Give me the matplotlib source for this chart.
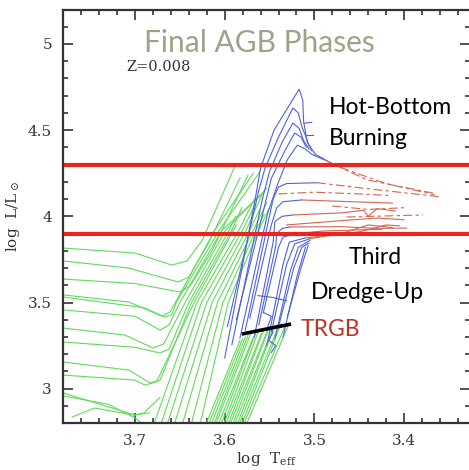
import matplotlib.pyplot as plt

# ---- data (log Teff, log L) ----
# tracks that come in from the left edge (subgiant -> base of RGB -> up)
subgiant_tracks = [
    [(3.780, 3.816), (3.700, 3.787), (3.659, 3.717), (3.642, 3.741), (3.625, 3.862), (3.589, 4.286)],
    [(3.780, 3.741), (3.707, 3.700), (3.652, 3.619), (3.640, 3.648), (3.618, 3.845), (3.583, 4.222)],
    [(3.780, 3.636), (3.700, 3.610), (3.650, 3.561), (3.638, 3.600), (3.614, 3.800), (3.574, 4.239)],
    [(3.780, 3.544), (3.707, 3.503), (3.670, 3.421), (3.661, 3.445), (3.655, 3.50), (3.611, 3.92), (3.568, 4.251)],
    [(3.780, 3.532), (3.690, 3.470), (3.667, 3.416), (3.659, 3.430), (3.654, 3.50), (3.606, 3.92), (3.561, 4.257)],
    [(3.780, 3.457), (3.700, 3.420), (3.672, 3.340), (3.662, 3.370), (3.650, 3.50), (3.603, 3.92), (3.557, 4.135)],
    [(3.780, 3.352), (3.711, 3.311), (3.680, 3.236), (3.668, 3.260), (3.644, 3.50), (3.599, 3.92), (3.553, 4.163)],
    [(3.780, 3.271), (3.700, 3.240), (3.672, 3.207), (3.662, 3.230), (3.640, 3.50), (3.595, 3.92), (3.588, 4.00)],
    [(3.780, 3.155), (3.707, 3.108), (3.683, 3.033), (3.672, 3.050), (3.637, 3.50), (3.592, 3.92), (3.581, 4.05)],
    [(3.780, 3.079), (3.700, 3.050), (3.689, 3.021), (3.676, 3.040), (3.634, 3.50), (3.587, 3.95)],
    [(3.780, 2.975), (3.700, 2.847), (3.690, 2.860), (3.672, 2.950)],
    [(3.770, 2.836), (3.745, 2.888), (3.701, 2.847), (3.684, 2.860)],
    [(3.780, 2.958), (3.730, 2.910), (3.700, 2.830), (3.690, 2.790)],
]

# RGB lines that enter from the bottom edge
rgb_tracks = [
    [(3.680, 2.78), (3.631, 3.50), (3.584, 3.92), (3.567, 4.10)],
    [(3.672, 2.78), (3.626, 3.50), (3.580, 3.92), (3.566, 4.07)],
    [(3.665, 2.78), (3.620, 3.50), (3.576, 3.92), (3.559, 4.12)],
    [(3.657, 2.78), (3.614, 3.50), (3.572, 3.92), (3.561, 4.04)],
    [(3.648, 2.78), (3.608, 3.50), (3.568, 3.92), (3.553, 4.08)],
    [(3.638, 2.78), (3.602, 3.50), (3.565, 3.92), (3.556, 4.01)],
    [(3.628, 2.78), (3.596, 3.50), (3.562, 3.92), (3.550, 4.05)],
]

# dense low-mass RGB bundle up to the tip
lowmass_bottom_T = [3.622, 3.619, 3.616, 3.613, 3.611, 3.608, 3.605, 3.602, 3.600,
                    3.597, 3.595, 3.592, 3.590, 3.587, 3.585, 3.582, 3.580, 3.577]
lowmass_top_T = [3.583, 3.580, 3.577, 3.574, 3.571, 3.568, 3.565, 3.562, 3.559,
                 3.556, 3.553, 3.550, 3.547, 3.544, 3.541, 3.537, 3.533, 3.528]
lowmass_top_L = [3.28, 3.29, 3.30, 3.31, 3.32, 3.30, 3.33, 3.34, 3.32,
                 3.35, 3.33, 3.36, 3.34, 3.37, 3.35, 3.38, 3.36, 3.38]

# TP-AGB, oxygen rich (blue)
agb_tracks = [
    [(3.600, 3.178), (3.566, 4.10), (3.560, 4.28), (3.545, 4.50), (3.517, 4.738), (3.513, 4.675),
     (3.512, 4.55), (3.508, 4.43), (3.503, 4.39), (3.499, 4.36), (3.478, 4.30)],
    [(3.597, 3.36), (3.562, 4.15), (3.555, 4.28), (3.540, 4.46), (3.524, 4.628), (3.518, 4.60),
     (3.514, 4.52), (3.510, 4.47), (3.506, 4.41), (3.503, 4.38)],
    [(3.592, 3.255), (3.558, 4.10), (3.550, 4.26), (3.536, 4.43), (3.524, 4.541), (3.517, 4.51),
     (3.512, 4.44), (3.506, 4.39)],
    [(3.587, 3.40), (3.556, 4.05), (3.548, 4.22), (3.533, 4.38), (3.522, 4.483), (3.515, 4.46),
     (3.509, 4.40)],
    [(3.583, 3.294), (3.552, 4.02), (3.540, 4.20), (3.530, 4.33), (3.519, 4.413), (3.510, 4.39),
     (3.503, 4.36), (3.490, 4.33)],
    [(3.577, 3.34), (3.551, 3.98), (3.546, 4.10), (3.540, 4.17), (3.531, 4.19), (3.497, 4.195)],
    [(3.572, 3.41), (3.548, 3.95), (3.542, 4.05), (3.535, 4.085), (3.514, 4.095)],
    [(3.567, 3.30), (3.546, 3.85), (3.544, 3.97), (3.536, 4.00), (3.524, 4.008)],
    [(3.562, 3.37), (3.543, 3.83), (3.542, 3.90), (3.536, 3.930), (3.527, 3.938)],
    [(3.557, 3.44), (3.540, 3.82), (3.535, 3.88), (3.520, 3.90)],
    [(3.553, 3.25), (3.535, 3.72), (3.528, 3.85), (3.510, 3.875)],
    [(3.548, 3.33), (3.531, 3.72), (3.522, 3.84), (3.505, 3.87)],
    [(3.544, 3.29), (3.527, 3.68), (3.518, 3.82), (3.505, 3.86)],
    [(3.540, 3.36), (3.523, 3.70), (3.514, 3.82), (3.506, 3.845)],
    [(3.535, 3.30), (3.519, 3.66), (3.510, 3.82)],
    [(3.530, 3.42), (3.515, 3.70), (3.507, 3.83)],
    [(3.563, 3.54), (3.547, 3.53), (3.531, 3.51)],
    [(3.556, 3.44), (3.548, 3.42), (3.552, 3.36), (3.546, 3.33), (3.551, 3.28), (3.543, 3.25), (3.548, 3.21)],
    [(3.512, 4.54), (3.503, 4.545)],
    [(3.510, 4.47), (3.501, 4.47)],
]

# carbon star phase (red), solid and dashed pieces
cstar_solid = [
    [(3.514, 4.095), (3.460, 4.085), (3.413, 4.077)],
    [(3.524, 4.008), (3.470, 4.020), (3.445, 4.035), (3.440, 4.000), (3.430, 4.045), (3.410, 4.031)],
    [(3.527, 3.938), (3.470, 3.940), (3.430, 3.930), (3.397, 3.932)],
    [(3.505, 3.870), (3.470, 3.900), (3.440, 3.950), (3.413, 3.935)],
    [(3.520, 3.900), (3.490, 3.915), (3.425, 3.925)],
    [(3.531, 3.950), (3.470, 3.975), (3.430, 3.990), (3.400, 3.980)],
    [(3.510, 3.875), (3.450, 3.910), (3.420, 3.950), (3.405, 3.945)],
]
cstar_dashed = [
    [(3.478, 4.300), (3.441, 4.211), (3.368, 4.135)],
    [(3.490, 4.330), (3.464, 4.270), (3.420, 4.190), (3.366, 4.125)],
    [(3.497, 4.195), (3.440, 4.160), (3.380, 4.125), (3.358, 4.112)],
    [(3.464, 3.996), (3.379, 4.008)],
    [(3.480, 4.060), (3.440, 4.040), (3.400, 4.050)],
    [(3.540, 4.130), (3.500, 4.140), (3.450, 4.130), (3.415, 4.120)],
]

phase_limits = [4.3, 3.9]
trgb_T = [3.581, 3.526]
trgb_L = [3.317, 3.375]

green = '#62da5c'
blue = '#4f63d6'
red = '#d4654f'

plt.rcParams['mathtext.fontset'] = 'dejavuserif'
fig = plt.figure(figsize=(4.69, 4.70), dpi=100)
ax = fig.add_axes([63 / 469, 47 / 470, 407 / 469, 413 / 470])

for tr in subgiant_tracks + rgb_tracks:
    ax.plot([p[0] for p in tr], [p[1] for p in tr], color=green, lw=0.8)
for tb, tt, tl in zip(lowmass_bottom_T, lowmass_top_T, lowmass_top_L):
    ax.plot([tb, tt], [2.78, tl], color=green, lw=0.8)
for tr in agb_tracks:
    ax.plot([p[0] for p in tr], [p[1] for p in tr], color=blue, lw=0.8)
for tr in cstar_solid:
    ax.plot([p[0] for p in tr], [p[1] for p in tr], color=red, lw=0.8)
for tr in cstar_dashed:
    ax.plot([p[0] for p in tr], [p[1] for p in tr], color=red, lw=0.8, dashes=(8, 3, 3, 3))

for yl in phase_limits:
    ax.axhline(yl, color='#e8261f', lw=3)
ax.plot(trgb_T, trgb_L, color='black', lw=2.6, solid_capstyle='butt')

ax.set_xlim(3.7803, 3.3265)
ax.set_ylim(2.801, 5.197)
ax.set_xticks([3.7, 3.6, 3.5, 3.4])
ax.set_yticks([3, 3.5, 4, 4.5, 5])
ax.set_xticklabels(['3.7', '3.6', '3.5', '3.4'])
ax.set_yticklabels(['3', '3.5', '4', '4.5', '5'])
ax.set_xticks([3.78, 3.76, 3.74, 3.72, 3.68, 3.66, 3.64, 3.62, 3.58, 3.56, 3.54, 3.52,
               3.48, 3.46, 3.44, 3.42, 3.38, 3.36, 3.34], minor=True)
ax.set_yticks([2.9, 3.1, 3.2, 3.3, 3.4, 3.6, 3.7, 3.8, 3.9, 4.1, 4.2, 4.3, 4.4,
               4.6, 4.7, 4.8, 4.9, 5.1], minor=True)
ax.tick_params(which='both', direction='in', top=True, right=True, color='#333333',
               width=1.2, labelsize=11, labelcolor='#333333', pad=8)
ax.tick_params(which='major', length=7.5)
ax.tick_params(which='minor', length=3.8)
for lab in ax.get_xticklabels() + ax.get_yticklabels():
    lab.set_family('DejaVu Serif')
for s in ax.spines.values():
    s.set_linewidth(1.6)
    s.set_color('#333333')

ax.set_xlabel(r'log  T$_{\rm eff}$', family='DejaVu Serif', fontsize=11, color='#333333', labelpad=1)
ax.set_ylabel(r'log  L/L$_\odot$', family='DejaVu Serif', fontsize=11, color='#333333', labelpad=4)

ax.text(0.482, 0.92, 'Final AGB Phases', transform=ax.transAxes, ha='center', va='center',
        family='Lato', fontsize=21.5, color='#9fa288')
ax.text(0.155, 0.863, 'Z=0.008', transform=ax.transAxes, ha='left', va='center',
        family='DejaVu Serif', fontsize=10.5, color='#333333')
ax.text(0.654, 0.763, 'Hot-Bottom', transform=ax.transAxes, ha='left', va='center',
        family='Lato', fontsize=16.5, color='black')
ax.text(0.654, 0.690, 'Burning', transform=ax.transAxes, ha='left', va='center',
        family='Lato', fontsize=16.5, color='black')
ax.text(0.766, 0.400, 'Third', transform=ax.transAxes, ha='center', va='center',
        family='Lato', fontsize=16.5, color='black')
ax.text(0.747, 0.317, 'Dredge-Up', transform=ax.transAxes, ha='center', va='center',
        family='Lato', fontsize=16.5, color='black')
ax.text(0.585, 0.227, 'TRGB', transform=ax.transAxes, ha='left', va='center',
        family='Lato', fontsize=16.5, color='#b8352b')

fig.savefig('out.png', dpi=100)
